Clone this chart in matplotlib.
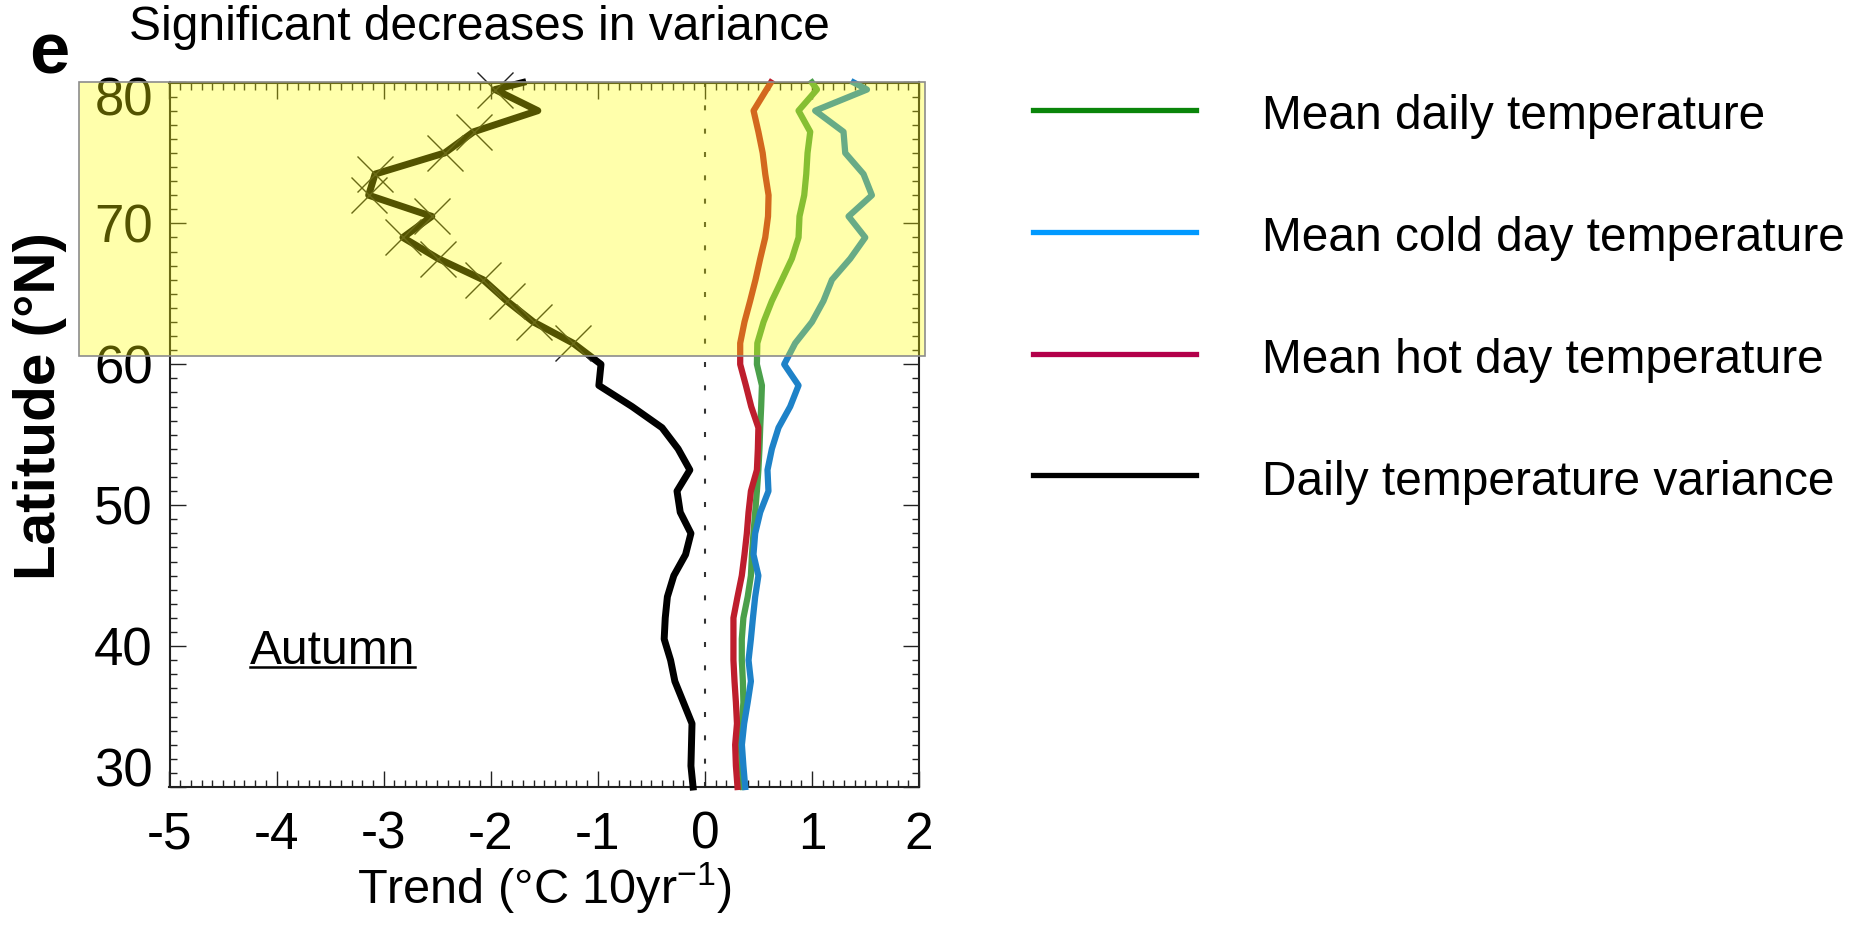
import numpy as np
import matplotlib
matplotlib.use('Agg')
import matplotlib.pyplot as plt
from matplotlib.patches import Rectangle
from matplotlib.lines import Line2D
from matplotlib.ticker import MultipleLocator
import matplotlib.transforms as mtransforms

plt.rcParams['font.family'] = ['Liberation Sans', 'DejaVu Sans']
plt.rcParams['mathtext.fontset'] = 'custom'
plt.rcParams['mathtext.rm'] = 'Liberation Sans'
plt.rcParams['mathtext.it'] = 'Liberation Sans'
plt.rcParams['axes.unicode_minus'] = False

# latitude grid (deg N)
lat = [30, 31.5, 33, 34.5, 36, 37.5, 39, 40.5, 42, 43.5, 45, 46.5, 48, 49.5, 51,
       52.5, 54, 55.5, 57, 58.5, 60, 61.5, 63, 64.5, 66, 67.5, 69, 70.5, 72, 73.5,
       75, 76.5, 78, 79.5, 80]

# trends (degC / 10yr)
variance = [-0.11, -0.13, -0.125, -0.12, -0.20, -0.28, -0.32, -0.38, -0.37, -0.35,
            -0.29, -0.18, -0.13, -0.23, -0.26, -0.14, -0.25, -0.40, -0.68, -0.99,
            -0.97, -1.23, -1.60, -1.85, -2.07, -2.49, -2.82, -2.55, -3.14, -3.08,
            -2.43, -2.16, -1.56, -1.96, -1.70]
hot_day = [0.305, 0.29, 0.283, 0.30, 0.29, 0.277, 0.267, 0.267, 0.267, 0.305,
           0.345, 0.37, 0.392, 0.408, 0.43, 0.486, 0.495, 0.50, 0.433, 0.383,
           0.33, 0.33, 0.37, 0.423, 0.473, 0.517, 0.564, 0.59, 0.595, 0.564,
           0.54, 0.50, 0.455, 0.576, 0.617]
daily = [0.355, 0.345, 0.336, 0.345, 0.36, 0.355, 0.345, 0.345, 0.36, 0.40,
         0.43, 0.44, 0.454, 0.47, 0.486, 0.50, 0.51, 0.517, 0.526, 0.533,
         0.486, 0.49, 0.548, 0.626, 0.72, 0.813, 0.875, 0.884, 0.928, 0.947,
         0.959, 0.984, 0.875, 1.047, 1.0]
cold_day = [0.377, 0.36, 0.346, 0.367, 0.40, 0.43, 0.408, 0.43, 0.449, 0.47,
            0.50, 0.454, 0.47, 0.517, 0.594, 0.585, 0.626, 0.688, 0.797, 0.875,
            0.741, 0.844, 1.0, 1.108, 1.187, 1.358, 1.498, 1.342, 1.56, 1.482,
            1.311, 1.295, 1.03, 1.514, 1.39]
# significant variance decrease (X markers)
significant = [False] * 21 + [True] * 11 + [False, True, False]

yticks = [30, 40, 50, 60, 70, 80]
legend_labels = ['Mean daily temperature', 'Mean cold day temperature',
                 'Mean hot day temperature', 'Daily temperature variance']
legend_colors = ['#0a850a', '#0099ff', '#b3004a', '#000000']

W, H = 1866, 925
fig = plt.figure(figsize=(W / 100, H / 100), dpi=100)
ax = fig.add_axes([169.5 / W, 1 - 787 / H, (919 - 169.5) / W, (787 - 82.5) / H])

ax.axvline(0, color='#333333', lw=1.5, linestyle=(0, (2.4, 8.8)), zorder=1)

ax.plot(daily, lat, color='#4ba04b', lw=4.5, clip_on=False, zorder=3)
ax.plot(cold_day, lat, color='#1e82c8', lw=4.5, clip_on=False, zorder=3)
ax.plot(hot_day, lat, color='#be1e2d', lw=4.5, clip_on=False, zorder=3)
ax.plot(variance, lat, color='black', lw=5.0, clip_on=False, zorder=4)

sig_x = [v for v, s in zip(variance, significant) if s]
sig_y = [l for l, s in zip(lat, significant) if s]
ax.plot(sig_x, sig_y, linestyle='none', marker='x', markersize=26,
        markeredgewidth=1.0, color='#222222', clip_on=False, zorder=5)

ax.set_xlim(-5, 2)
ax.set_ylim(30, 80)
ax.xaxis.set_major_locator(MultipleLocator(1))
ax.xaxis.set_minor_locator(MultipleLocator(0.1))
ax.set_yticks(yticks)
ax.yaxis.set_minor_locator(MultipleLocator(1))
ax.tick_params(which='both', direction='in', top=True, right=True, width=1.0,
               color='#222222')
ax.tick_params(which='major', length=11.5)
ax.tick_params(which='minor', length=4.8)
ax.tick_params(axis='x', which='major', labelsize=37, pad=17)
ax.tick_params(axis='y', which='major', labelsize=38, pad=12)
for s in ax.spines.values():
    s.set_linewidth(1.5)
    s.set_color('#222222')

# end labels of the y axis sit inside the frame
ticks = ax.yaxis.get_major_ticks()
for t, dy in [(ticks[0], 20), (ticks[-1], -14)]:
    off = mtransforms.ScaledTranslation(0, dy / 100, fig.dpi_scale_trans)
    t.label1.set_transform(t.label1.get_transform() + off)

ax.set_xlabel('Trend (°C 10yr$^{-1}$)', fontsize=35, labelpad=1)
ax.set_ylabel('Latitude (°N)', fontsize=42, fontweight='bold', va='center')
ax.yaxis.set_label_coords(-0.1730, 0.541)

autumn = ax.text(-4.25, 39.6, 'Autumn', fontsize=34.5, ha='left', va='center')

# highlighted region of significant decreases
box = Rectangle((-0.1207, 60.6), 1.1287, 19.4,
                transform=mtransforms.blended_transform_factory(ax.transAxes, ax.transData),
                facecolor=(1, 1, 0, 0.33), edgecolor='#8c8c8c', lw=1.2,
                clip_on=False, zorder=10)
ax.add_patch(box)

fig.text(479 / W, 1 - 40 / H, 'Significant decreases in variance', fontsize=34.5,
         ha='center', va='baseline')
fig.text(49 / W, 1 - 74 / H, 'e', fontsize=52, fontweight='bold',
         ha='center', va='baseline')

# legend
for i, (lab, col) in enumerate(zip(legend_labels, legend_colors)):
    y = 109.5 + i * 122
    fig.add_artist(Line2D([1033 / W, 1196 / W], [1 - y / H, 1 - y / H],
                          transform=fig.transFigure, color=col, lw=3.8))
    fig.text(1262 / W, 1 - (y + 7) / H, lab, fontsize=34.5, ha='left', va='center')

# underline under "Autumn"
fig.canvas.draw()
bb = autumn.get_window_extent()
uy = (bb.y0 + 7) / H
fig.add_artist(Line2D([bb.x0 / W, bb.x1 / W], [uy, uy], transform=fig.transFigure,
                      color='black', lw=1.8))

fig.savefig('out.png', dpi=100)
